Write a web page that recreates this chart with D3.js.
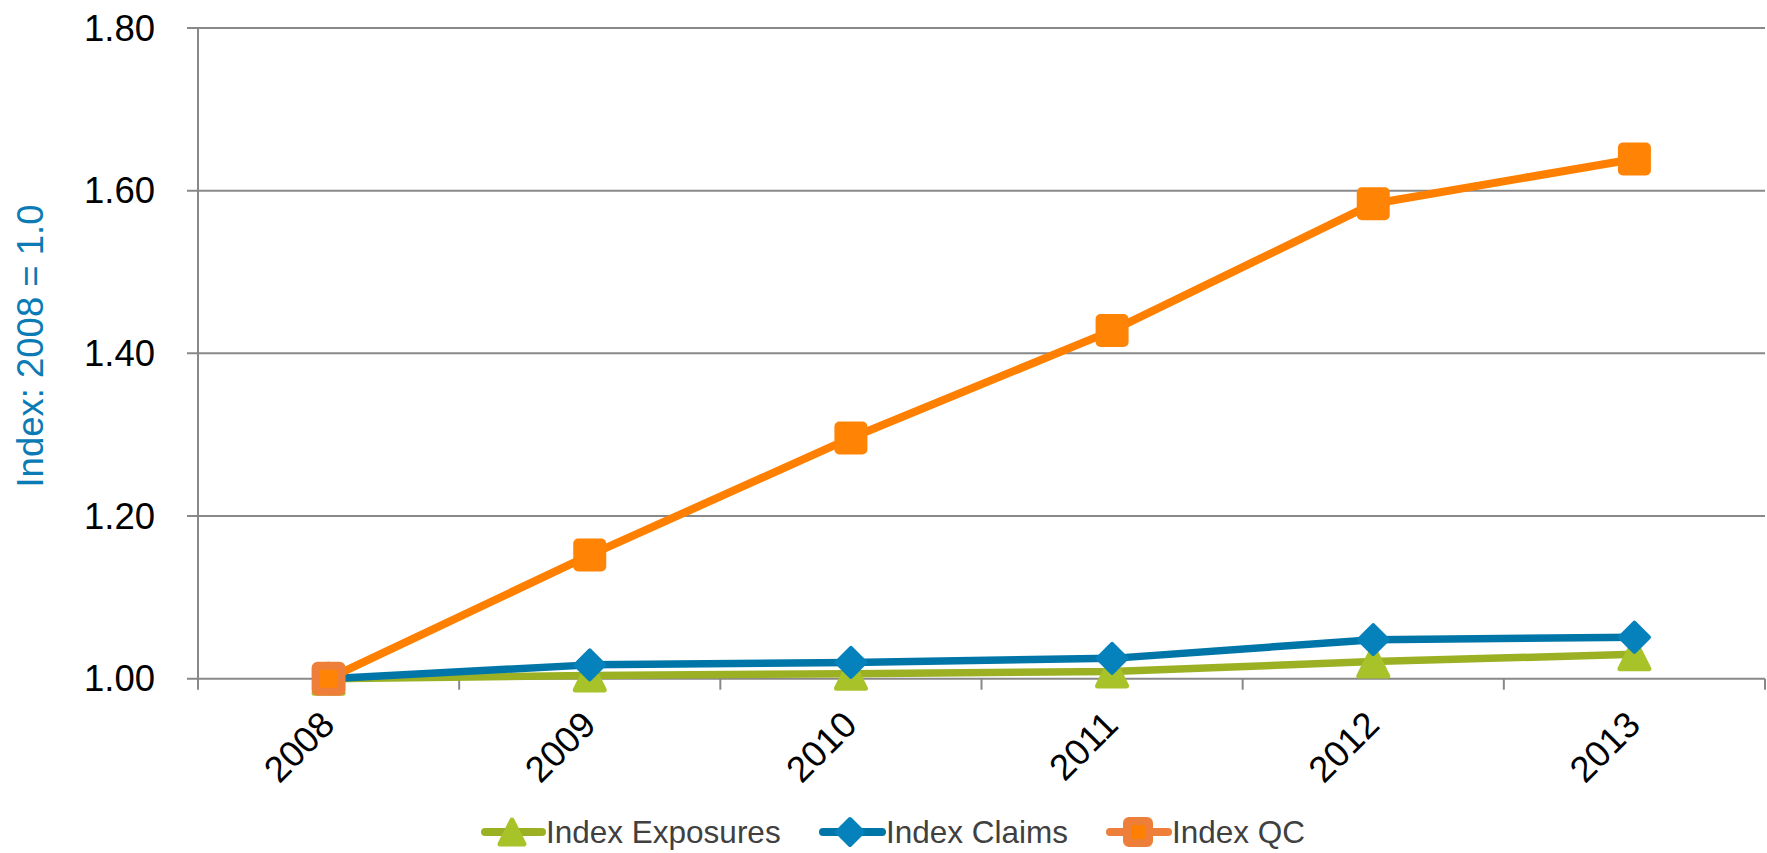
<!DOCTYPE html>
<html>
<head>
<meta charset="utf-8">
<script src="https://cdn.jsdelivr.net/npm/d3@7/dist/d3.min.js"></script>
<style>
  html, body { margin: 0; padding: 0; background: #fff; }
  svg { display: block; font-family: "Liberation Sans", Arial, sans-serif; }
</style>
</head>
<body>
<svg id="chart" width="1767" height="853"></svg>
<script>
const years = ["2008", "2009", "2010", "2011", "2012", "2013"];
const exposures = [1.000, 1.004, 1.006, 1.009, 1.021, 1.030];
const claims = [1.000, 1.017, 1.020, 1.025, 1.048, 1.051];
const qc = [1.000, 1.152, 1.296, 1.428, 1.584, 1.639];
const yTicks = [1.00, 1.20, 1.40, 1.60, 1.80];
const seriesNames = ["Index Exposures", "Index Claims", "Index QC"];

const svg = d3.select("#chart");
const plotLeft = 198, plotRight = 1765, plotTop = 28, plotBottom = 678.7;

const x = d3.scaleBand().domain(years).range([plotLeft, plotRight]);
const y = d3.scaleLinear().domain([1.0, 1.8]).range([plotBottom, plotTop]);

// gridlines
svg.append("g").selectAll("line").data(yTicks).join("line")
  .attr("x1", plotLeft - 11).attr("x2", plotRight)
  .attr("y1", d => y(d)).attr("y2", d => y(d))
  .attr("stroke", "#888").attr("stroke-width", 2);

// y axis line
svg.append("line").attr("x1", plotLeft).attr("x2", plotLeft).attr("y1", plotTop).attr("y2", plotBottom)
  .attr("stroke", "#888").attr("stroke-width", 2);

// x ticks at category boundaries
const bounds = years.map(d => x(d)).concat([plotRight]);
svg.append("g").selectAll("line").data(bounds).join("line")
  .attr("x1", d => d).attr("x2", d => d).attr("y1", plotBottom).attr("y2", plotBottom + 11)
  .attr("stroke", "#888").attr("stroke-width", 2);

// y tick labels
svg.append("g").selectAll("text").data(yTicks).join("text")
  .attr("x", 155).attr("y", d => y(d))
  .attr("text-anchor", "end").attr("dominant-baseline", "central")
  .attr("font-size", 36.5).attr("fill", "#000")
  .text(d => d.toFixed(2));

// x tick labels
svg.append("g").selectAll("text").data(years).join("text")
  .attr("transform", d => `translate(${x(d) + x.bandwidth() / 2 + 8},727) rotate(-45)`)
  .attr("text-anchor", "end")
  .attr("font-size", 36.5).attr("fill", "#000")
  .text(d => d);

// y axis title
svg.append("text")
  .attr("transform", `translate(43,346) rotate(-90)`)
  .attr("text-anchor", "middle")
  .attr("font-size", 36.5).attr("fill", "#0B7BB5")
  .text("Index: 2008 = 1.0");

const line = d3.line().x((d, i) => x(years[i]) + x.bandwidth() / 2).y(d => y(d));

const triPath = s => `M0,${-s/2} L${s/2},${s/2} L${-s/2},${s/2} Z`;
const diaPath = s => `M0,${-s/2} L${s/2},0 L0,${s/2} L${-s/2},0 Z`;

// Exposures
svg.append("path").datum(exposures).attr("d", line)
  .attr("fill", "none").attr("stroke", "#9BB123").attr("stroke-width", 7.5).attr("stroke-linejoin", "round");
svg.append("g").selectAll("path").data(exposures).join("path")
  .attr("transform", (d, i) => `translate(${x(years[i]) + x.bandwidth() / 2},${y(d)})`)
  .attr("d", triPath(29))
  .attr("fill", "#A8C22A").attr("stroke", "#A8C22A").attr("stroke-width", 5).attr("stroke-linejoin", "round");

// Claims
svg.append("path").datum(claims).attr("d", line)
  .attr("fill", "none").attr("stroke", "#0076A8").attr("stroke-width", 7.5).attr("stroke-linejoin", "round");
svg.append("g").selectAll("path").data(claims).join("path")
  .attr("transform", (d, i) => `translate(${x(years[i]) + x.bandwidth() / 2},${y(d)})`)
  .attr("d", diaPath(29))
  .attr("fill", "#0581BB").attr("stroke", "#0581BB").attr("stroke-width", 4).attr("stroke-linejoin", "round");

// QC
svg.append("path").datum(qc).attr("d", line)
  .attr("fill", "none").attr("stroke", "#FF8000").attr("stroke-width", 8).attr("stroke-linejoin", "round");
svg.append("g").selectAll("rect").data(qc).join("rect")
  .attr("x", (d, i) => x(years[i]) + x.bandwidth() / 2 - (i === 0 ? 13 : 16.5))
  .attr("y", (d, i) => y(d) - (i === 0 ? 13 : 16.5))
  .attr("width", (d, i) => i === 0 ? 26 : 33).attr("height", (d, i) => i === 0 ? 26 : 33)
  .attr("rx", (d, i) => i === 0 ? 2 : 5)
  .attr("fill", "#FF8305")
  .attr("stroke", (d, i) => i === 0 ? "#EE7F3A" : "none")
  .attr("stroke-width", (d, i) => i === 0 ? 8 : 0)
  .attr("stroke-linejoin", "round");

// Legend
const legendY = 832;
const legendItems = [
  { name: seriesNames[0], x1: 485, x2: 542, mx: 512, lc: "#9BB123", mc: "#A8C22A", type: "tri", tx: 546 },
  { name: seriesNames[1], x1: 823, x2: 882, mx: 850, lc: "#0076A8", mc: "#0581BB", type: "dia", tx: 886 },
  { name: seriesNames[2], x1: 1110, x2: 1168, mx: 1138, lc: "#EE7F3A", mc: "#FF8000", type: "sq", tx: 1172 }
];
const lg = svg.append("g");
legendItems.forEach(it => {
  lg.append("line").attr("x1", it.x1).attr("x2", it.x2).attr("y1", legendY).attr("y2", legendY)
    .attr("stroke", it.lc).attr("stroke-width", 8).attr("stroke-linecap", "round");
  if (it.type === "tri") {
    lg.append("path").attr("transform", `translate(${it.mx},${legendY})`).attr("d", triPath(24))
      .attr("fill", it.mc).attr("stroke", it.mc).attr("stroke-width", 5).attr("stroke-linejoin", "round");
  } else if (it.type === "dia") {
    lg.append("path").attr("transform", `translate(${it.mx},${legendY})`).attr("d", diaPath(26))
      .attr("fill", it.mc).attr("stroke", it.mc).attr("stroke-width", 4).attr("stroke-linejoin", "round");
  } else {
    lg.append("rect").attr("x", it.mx - 11).attr("y", legendY - 11).attr("width", 22).attr("height", 22).attr("rx", 2)
      .attr("fill", it.mc).attr("stroke", "#EE7F3A").attr("stroke-width", 8).attr("stroke-linejoin", "round");
  }
  lg.append("text").attr("x", it.tx).attr("y", legendY + 11)
    .attr("font-size", 31.5).attr("fill", "#404040").text(it.name);
});
</script>
</body>
</html>
